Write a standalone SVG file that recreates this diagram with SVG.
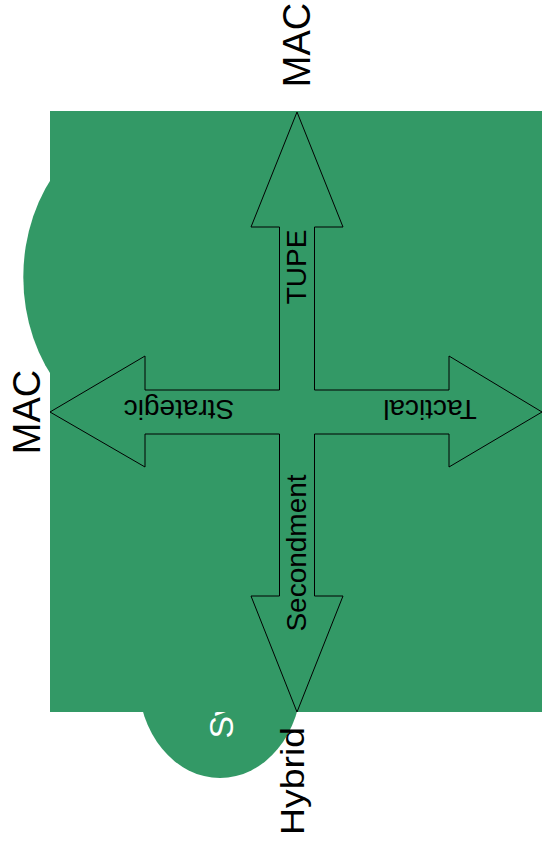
<svg xmlns="http://www.w3.org/2000/svg" width="542" height="846" viewBox="0 0 542 846">
<style>
.bg{fill:#339966}
.lbl{font-family:"Liberation Sans",Arial,sans-serif;fill:#000}
.big{font-size:38px}
.mid{font-size:28px}
.wt{font-family:"Liberation Sans",Arial,sans-serif;font-size:34px;fill:#fff}
.arrow{fill:none;stroke:#000;stroke-width:1}
</style>
<rect width="542" height="846" fill="#fff"/>
<g id="circle-left"><ellipse class="bg" cx="153.8" cy="277" rx="130.5" ry="159"/></g>
<g id="circle-bottom"><ellipse class="bg" cx="220" cy="678.2" rx="81.8" ry="99.8"/>
<text class="wt" transform="translate(233.3,738.6) rotate(-90)">Sv</text></g>
<g id="panel"><rect class="bg" x="50" y="111" width="492" height="601"/></g>
<g id="connectors">
<polygon class="arrow" points="297,112 343,227 314.5,227 314.5,390 449,390 449,356 542,412 449,467 449,434 314.5,434 314.5,596 343,596 297,712 251,596 279.5,596 279.5,434 145,434 145,467 50,412 145,356 145,390 279.5,390 279.5,227 251,227"/>
</g>
<g id="label-tupe"><text class="lbl mid" text-anchor="middle" transform="translate(306,267) rotate(-90)">TUPE</text></g>
<g id="label-secondment"><text class="lbl mid" text-anchor="middle" transform="translate(306,553) rotate(-90)">Secondment</text></g>
<g id="label-strategic"><text class="lbl mid" text-anchor="middle" transform="translate(179,400) rotate(180)">Strategic</text></g>
<g id="label-tactical"><text class="lbl mid" text-anchor="middle" transform="translate(430,399.5) rotate(180)">Tactical</text></g>
<g id="label-mac-top"><text class="lbl big" text-anchor="middle" transform="translate(310,45) rotate(-90)">MAC</text></g>
<g id="label-mac-left"><text class="lbl big" text-anchor="middle" transform="translate(40,412) rotate(-90)">MAC</text></g>
<g id="label-hybrid"><text class="lbl" font-size="33" text-anchor="middle" textLength="108" lengthAdjust="spacingAndGlyphs" transform="translate(304,781) rotate(-90)">Hybrid</text></g>
</svg>
